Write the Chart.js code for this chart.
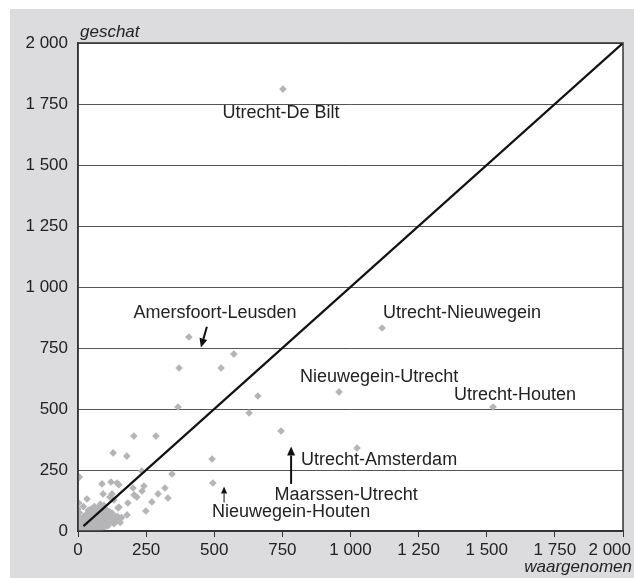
<!DOCTYPE html>
<html>
<head>
<meta charset="utf-8">
<script src="https://cdn.jsdelivr.net/npm/chart.js@4"></script>
<style>
  html, body { margin: 0; padding: 0; background: #fff; }
  #wrap { width: 634px; height: 578px; }
</style>
</head>
<body>
<div id="wrap"><canvas id="flowChart" width="634" height="578"></canvas></div>
<script>
// Trips per route: observed (waargenomen) vs model estimate (geschat)
const observed = [
  752, 407, 1116, 958, 1523, 1024, 745, 495, 572, 371, 525, 660, 367, 628, 205, 286, 129, 179, 492, 234, 345, 5,
  88, 121, 143, 150, 242, 202, 319, 235, 92, 125, 206, 216, 294, 330, 33, 271, 3, 132, 183, 249, 180, 150, 117, 147, 125,
  2, 4, 6, 8, 10, 12, 14, 15, 18, 20, 22, 25, 26, 28, 30, 32, 35, 36, 38, 40, 42, 45, 46, 48, 50, 52, 55, 56, 58, 60,
  62, 64, 66, 68, 70, 72, 74, 76, 78, 80, 82, 84, 86, 88, 90, 92, 95, 98, 100, 102, 105, 108, 110, 112, 115, 118, 120,
  124, 128, 132, 136, 140, 145, 150, 155, 160, 0, 0, 0, 3, 5, 20,
  5, 10, 15, 18, 24, 28, 32, 12, 6, 22,
  8, 12, 16, 20, 24, 28, 34, 38, 44, 48, 54, 58, 64, 68, 74, 78, 84, 88, 94, 98,
  104, 108, 114, 118, 44, 52, 60, 70, 80, 90, 100, 110, 30, 40, 50, 65, 75, 85, 95, 105
];
const estimated = [
  1811, 795, 832, 570, 508, 340, 410, 197, 725, 668, 668, 553, 508, 484, 389, 389, 320, 307, 295, 246, 234, 221,
  193, 201, 197, 190, 184, 176, 176, 164, 152, 152, 148, 139, 152, 135, 131, 119, 115, 127, 115, 82, 66, 98, 139, 94, 74,
  5, 12, 3, 20, 8, 30, 15, 45, 25, 10, 60, 35, 18, 50, 8, 70, 40, 22, 85, 55, 30, 12, 65, 90, 45, 25, 75, 55, 35, 100,
  15, 60, 80, 40, 22, 95, 55, 70, 30, 48, 110, 62, 38, 85, 20, 50, 72, 35, 58, 90, 42, 28, 65, 50, 80, 36, 55,
  45, 68, 30, 52, 40, 60, 48, 35, 55, 30, 60, 90, 45, 75, 100,
  8, 18, 5, 12, 28, 14, 20, 2, 25, 40,
  14, 6, 22, 28, 10, 36, 26, 48, 20, 58, 30, 66, 44, 28, 62, 42, 50, 70, 40, 60,
  52, 74, 44, 62, 4, 10, 6, 12, 8, 14, 18, 22, 55, 75, 62, 88, 82, 98, 105, 80
];
const diagonal = [20, 2000];
const tickValues = [0, 250, 500, 750, 1000, 1250, 1500, 1750, 2000];
const routeNames = [
  "Utrecht-De Bilt", "Amersfoort-Leusden", "Utrecht-Nieuwegein", "Nieuwegein-Utrecht",
  "Utrecht-Houten", "Utrecht-Amsterdam", "Maarssen-Utrecht", "Nieuwegein-Houten"
];

const points = observed.map((x, i) => ({ x: x, y: estimated[i] }));
const fmt = (v) => String(v).replace(/\B(?=(\d{3})+(?!\d))/g, " ");

// label anchors in data units (centre of text)
const labelAt = [
  [745, 1713], [503, 893], [1409, 893], [1105, 631],
  [1604, 557], [1105, 291], [984, 148], [782, 78]
];
// arrows: from -> to (tip), data units, line width
const arrows = [
  [[473, 837], [451, 752], 2],
  [[782, 193], [782, 346], 2],
  [[536, 117], [536, 182], 1]
];

function drawArrow(ctx, x1, y1, x2, y2, w) {
  const ang = Math.atan2(y2 - y1, x2 - x1);
  const len = w > 1 ? 9 : 7, half = w > 1 ? 4 : 3;
  ctx.strokeStyle = "#111";
  ctx.fillStyle = "#111";
  ctx.lineWidth = w;
  ctx.beginPath();
  ctx.moveTo(x1, y1);
  ctx.lineTo(x2 - Math.cos(ang) * len, y2 - Math.sin(ang) * len);
  ctx.stroke();
  ctx.beginPath();
  ctx.moveTo(x2, y2);
  ctx.lineTo(x2 - Math.cos(ang) * len - Math.sin(ang) * half, y2 - Math.sin(ang) * len + Math.cos(ang) * half);
  ctx.lineTo(x2 - Math.cos(ang) * len + Math.sin(ang) * half, y2 - Math.sin(ang) * len - Math.cos(ang) * half);
  ctx.closePath();
  ctx.fill();
}

const frame = {
  id: "frame",
  beforeDraw(chart) {
    const ctx = chart.ctx, a = chart.chartArea;
    ctx.save();
    ctx.fillStyle = "#fff";
    ctx.fillRect(0, 0, chart.width, chart.height);
    ctx.fillStyle = "#dcdcde";
    ctx.fillRect(10, 9, chart.width - 10, chart.height - 9);
    ctx.fillStyle = "#fff";
    ctx.fillRect(a.left, a.top, a.right - a.left, a.bottom - a.top);
    ctx.restore();
  },
  afterDraw(chart) {
    const ctx = chart.ctx, a = chart.chartArea;
    const xs = chart.scales.x, ys = chart.scales.y;
    ctx.save();
    ctx.strokeStyle = "#333";
    ctx.lineWidth = 1.5;
    ctx.strokeRect(a.left, a.top, a.right - a.left, a.bottom - a.top);

    // x tick labels, last one kept inside the panel
    ctx.fillStyle = "#222";
    ctx.font = "17px 'Liberation Sans', Arial, sans-serif";
    ctx.textBaseline = "alphabetic";
    tickValues.forEach((v) => {
      const t = fmt(v);
      const w = ctx.measureText(t).width;
      let cx = xs.getPixelForValue(v);
      if (cx + w / 2 > chart.width - 3) cx = chart.width - 3 - w / 2;
      ctx.textAlign = "center";
      ctx.fillText(t, cx, a.bottom + 24);
    });

    // axis titles
    ctx.font = "italic 17px 'Liberation Sans', Arial, sans-serif";
    ctx.textAlign = "left";
    ctx.fillText("geschat", a.left + 2, a.top - 6);
    ctx.textAlign = "right";
    ctx.fillText("waargenomen", chart.width - 2, chart.height - 6);

    // route labels
    ctx.font = "18px 'Liberation Sans', Arial, sans-serif";
    ctx.textAlign = "center";
    ctx.textBaseline = "middle";
    routeNames.forEach((name, i) => {
      ctx.fillText(name, xs.getPixelForValue(labelAt[i][0]), ys.getPixelForValue(labelAt[i][1]));
    });
    arrows.forEach(([p, q, w]) => {
      drawArrow(ctx, xs.getPixelForValue(p[0]), ys.getPixelForValue(p[1]),
        xs.getPixelForValue(q[0]), ys.getPixelForValue(q[1]), w);
    });
    ctx.restore();
  }
};

const ctx = document.getElementById("flowChart").getContext("2d");
const flowChart = new Chart(ctx, {
  type: "scatter",
  data: {
    datasets: [
      {
        label: "routes",
        data: points,
        backgroundColor: "#b5b5b8",
        borderWidth: 0,
        pointStyle: "rectRot",
        pointRadius: 3.8,
        order: 2
      },
      {
        label: "x = y",
        type: "line",
        data: diagonal.map((v) => ({ x: v, y: v })),
        borderColor: "#111",
        borderWidth: 2.2,
        pointRadius: 0,
        fill: false,
        order: 1
      }
    ]
  },
  options: {
    responsive: false,
    animation: false,
    devicePixelRatio: 1,
    layout: { padding: { left: 0, top: 43, right: 11, bottom: 0 } },
    plugins: { legend: { display: false }, tooltip: { enabled: false } },
    scales: {
      x: {
        type: "linear",
        min: 0,
        max: 2000,
        afterFit: (s) => { s.height = 47; },
        afterBuildTicks: (s) => { s.ticks = tickValues.map((v) => ({ value: v })); },
        ticks: { display: false },
        grid: { drawOnChartArea: false, drawTicks: true, tickLength: 6, color: "#333", lineWidth: 1 },
        border: { color: "#333", width: 1.5 }
      },
      y: {
        type: "linear",
        min: 0,
        max: 2000,
        afterFit: (s) => { s.width = 78; },
        afterBuildTicks: (s) => { s.ticks = tickValues.map((v) => ({ value: v })); },
        ticks: {
          padding: 10,
          color: "#222",
          font: { family: "'Liberation Sans', Arial, sans-serif", size: 17 },
          callback: (v) => fmt(v)
        },
        grid: { color: "#555", lineWidth: 1, drawTicks: false },
        border: { color: "#333", width: 1.5 }
      }
    }
  },
  plugins: [frame]
});
</script>
</body>
</html>
